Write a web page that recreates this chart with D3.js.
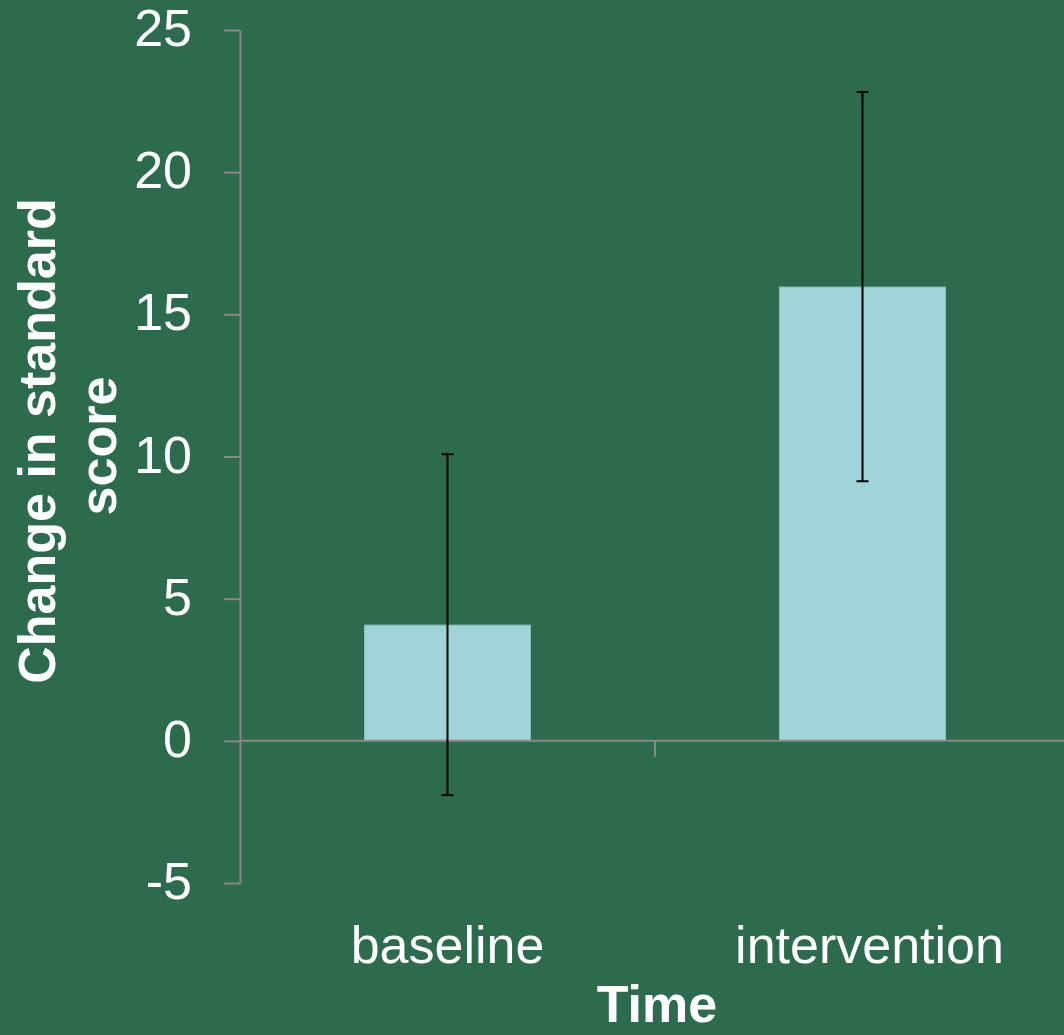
<!DOCTYPE html>
<html>
<head>
<meta charset="utf-8">
<script src="https://cdn.jsdelivr.net/npm/d3@7"></script>
<style>
  html, body { margin: 0; padding: 0; background: #2c6b4e; }
  svg { display: block; }
</style>
</head>
<body>
<svg id="chart" width="1064" height="1035"></svg>
<script>
const categories = ["baseline", "intervention"];
const means = [4.07, 15.96];
const errLow = [-1.91, 9.13];
const errHigh = [10.08, 22.82];
const yTicks = [-5, 0, 5, 10, 15, 20, 25];
const xTitle = "Time";
const yTitleLines = ["Change in standard", "score"];

const W = 1064, H = 1035;
const svg = d3.select("#chart");
svg.append("rect").attr("width", W).attr("height", H).attr("fill", "#2c6b4e");

const font = "'Liberation Sans', Arial, sans-serif";
const fs = 52;

const y = d3.scaleLinear().domain([-5, 25]).range([883, 30]);
const x = d3.scaleBand().domain(categories).range([240, 1070]).paddingInner(0.6).paddingOuter(0.3);

// y axis
const yAxis = svg.append("g").attr("transform", "translate(240,0)")
  .call(d3.axisLeft(y).tickValues(yTicks).tickSize(16).tickSizeOuter(0).tickPadding(32).tickFormat(d => String(d)));
yAxis.select(".domain").attr("stroke", "#888").attr("stroke-width", 2);
yAxis.selectAll(".tick line").attr("stroke", "#888").attr("stroke-width", 2);
yAxis.selectAll(".tick text").attr("fill", "#fff").attr("font-family", font).attr("font-size", fs).attr("dy", "0.3em");

// bars
svg.append("g").selectAll("rect").data(categories).join("rect")
  .attr("x", d => x(d))
  .attr("width", x.bandwidth())
  .attr("y", (d, i) => y(Math.max(0, means[i])))
  .attr("height", (d, i) => Math.abs(y(means[i]) - y(0)))
  .attr("fill", "#a0d4d8")
  .attr("stroke", "#86bfc2")
  .attr("stroke-width", 1);

// x axis line
const y0 = y(0);
svg.append("line").attr("x1", 240).attr("x2", W + 10).attr("y1", y0).attr("y2", y0)
  .attr("stroke", "#888").attr("stroke-width", 2);
// category boundary ticks
const step = x.step();
const boundaries = categories.slice(1).map(c => x(c) - (step - x.bandwidth()) / 2);
svg.append("g").selectAll("line").data(boundaries).join("line")
  .attr("x1", d => d).attr("x2", d => d)
  .attr("y1", y0).attr("y2", y0 + 16)
  .attr("stroke", "#888").attr("stroke-width", 2);

// error bars
const eb = svg.append("g").attr("stroke", "#000").attr("stroke-width", 2);
categories.forEach((c, i) => {
  const cx = x(c) + x.bandwidth() / 2;
  eb.append("line").attr("x1", cx).attr("x2", cx).attr("y1", y(errLow[i])).attr("y2", y(errHigh[i]));
  eb.append("line").attr("x1", cx - 6).attr("x2", cx + 6).attr("y1", y(errLow[i])).attr("y2", y(errLow[i]));
  eb.append("line").attr("x1", cx - 6).attr("x2", cx + 6).attr("y1", y(errHigh[i])).attr("y2", y(errHigh[i]));
});

// x category labels
svg.append("g").selectAll("text").data(categories).join("text")
  .attr("x", d => x(d) + x.bandwidth() / 2 + (d === "intervention" ? 7 : 0))
  .attr("y", 963)
  .attr("text-anchor", "middle")
  .attr("fill", "#fff").attr("font-family", font).attr("font-size", fs)
  .text(d => d);

// x title
svg.append("text").attr("x", 657).attr("y", 1022).attr("text-anchor", "middle")
  .attr("fill", "#fff").attr("font-family", font).attr("font-size", fs).attr("font-weight", "bold")
  .text(xTitle);

// y title
const yt = [[55, 441], [116, 446]];
yTitleLines.forEach((t, i) => {
  svg.append("text")
    .attr("transform", `translate(${yt[i][0]},${yt[i][1]}) rotate(-90)`)
    .attr("text-anchor", "middle")
    .attr("fill", "#fff").attr("font-family", font).attr("font-size", fs).attr("font-weight", "bold")
    .text(t);
});
</script>
</body>
</html>
